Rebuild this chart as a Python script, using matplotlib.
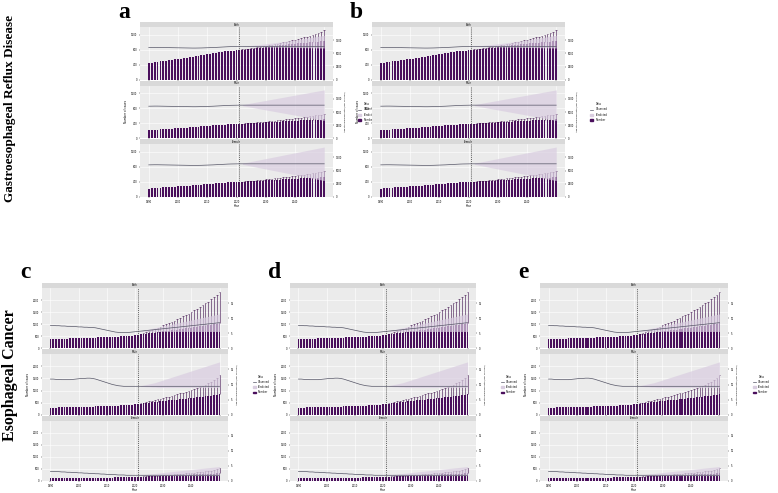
import numpy as np
import matplotlib
matplotlib.use("Agg")
import matplotlib.pyplot as plt
from matplotlib.patches import Patch
from matplotlib.lines import Line2D

# ---------------- data ----------------
years = list(range(1990, 2051))          # 61 years, 2021 = last observed
pred_years = list(range(2022, 2051))     # 29 predicted years
sexes = ["Both", "Male", "Female"]

# Gastroesophageal reflux disease (cases, thousands)
gerd_both = [440, 450, 461, 472, 483, 494, 505, 516, 527, 538, 549, 560, 572, 584, 596, 608,
             620, 633, 646, 659, 672, 685, 698, 711, 724, 737, 750, 762, 770, 775, 778, 780,
             790, 800, 810, 819, 828, 837, 846, 855, 864, 873, 882, 891, 900, 909, 918, 927,
             936, 945, 954, 962, 970, 978, 986, 994, 1001, 1008, 1014, 1020, 1026]
gerd_male = [215, 220, 225, 230, 236, 241, 247, 252, 258, 263, 269, 274, 280, 286, 292, 298,
             304, 310, 316, 323, 329, 336, 342, 348, 355, 361, 367, 373, 377, 380, 381, 382,
             387, 392, 397, 401, 406, 410, 415, 419, 423, 428, 432, 437, 441, 445, 450, 454,
             458, 463, 467, 471, 475, 479, 483, 487, 490, 494, 497, 500, 503]
gerd_female = [225, 230, 236, 242, 247, 253, 258, 264, 269, 275, 280, 286, 292, 298, 304, 310,
               316, 323, 330, 336, 343, 349, 356, 363, 369, 376, 383, 389, 393, 395, 397, 398,
               403, 408, 413, 418, 422, 427, 431, 436, 440, 445, 450, 454, 459, 464, 468, 473,
               477, 482, 487, 491, 495, 499, 503, 507, 511, 514, 517, 520, 523]
gerd_both_up = [805, 815, 826, 838, 850, 862, 875, 888, 902, 916, 930, 945, 960, 976, 992,
                1008, 1025, 1043, 1061, 1080, 1100, 1121, 1143, 1166, 1190, 1215, 1245, 1280, 1330]
gerd_male_up = [390, 396, 402, 408, 414, 421, 428, 435, 443, 451, 459, 467, 475, 484, 493,
                502, 511, 521, 531, 541, 551, 562, 573, 584, 596, 608, 620, 633, 646]
gerd_female_up = [407, 414, 421, 428, 435, 442, 450, 458, 466, 474, 483, 492, 501, 510, 520,
                  530, 540, 550, 561, 572, 583, 594, 606, 618, 630, 643, 656, 670, 684]
# age-standardised rate (right axis)
gerd_rate = [6100, 6110, 6120, 6120, 6110, 6100, 6090, 6080, 6070, 6060, 6050, 6040, 6030, 6020,
             6010, 6000, 6000, 6010, 6020, 6040, 6060, 6080, 6100, 6130, 6160, 6190, 6220, 6250,
             6270, 6280, 6290, 6300, 6300, 6300, 6300, 6300, 6300, 6300, 6300, 6300, 6300, 6300,
             6300, 6300, 6300, 6300, 6300, 6300, 6300, 6300, 6300, 6300, 6300, 6300, 6300, 6300,
             6300, 6300, 6300, 6300, 6300]
gerd_band_lo = {
    "Both": [6290, 6280, 6270, 6260, 6250, 6240, 6230, 6220, 6210, 6200, 6190, 6180, 6170, 6160,
             6150, 6140, 6130, 6120, 6110, 6100, 6090, 6080, 6070, 6060, 6050, 6040, 6030, 6020, 6010],
    "Male": [6200, 6100, 6000, 5900, 5800, 5700, 5600, 5500, 5400, 5300, 5200, 5100, 5000, 4900,
             4800, 4700, 4600, 4500, 4400, 4300, 4200, 4100, 4000, 3900, 3800, 3700, 3600, 3500, 3400],
    "Female": [6200, 6090, 5980, 5870, 5760, 5650, 5540, 5430, 5320, 5210, 5100, 4990, 4880, 4770,
               4660, 4550, 4440, 4330, 4220, 4110, 4000, 3890, 3780, 3670, 3560, 3450, 3340, 3230, 3120],
}
gerd_band_hi = {
    "Both": [6350, 6400, 6450, 6500, 6560, 6620, 6680, 6740, 6800, 6870, 6940, 7010, 7080, 7150,
             7220, 7300, 7380, 7460, 7540, 7620, 7700, 7790, 7880, 7970, 8060, 8150, 8240, 8330, 8420],
    "Male": [6400, 6500, 6600, 6700, 6800, 6900, 7000, 7100, 7200, 7300, 7400, 7500, 7600, 7700,
             7800, 7900, 8000, 8100, 8200, 8300, 8400, 8500, 8600, 8700, 8800, 8900, 9000, 9100, 9200],
    "Female": [6410, 6520, 6630, 6740, 6850, 6960, 7070, 7180, 7290, 7400, 7510, 7620, 7730, 7840,
               7950, 8060, 8170, 8280, 8390, 8500, 8610, 8720, 8830, 8940, 9050, 9160, 9270, 9380, 9490],
}

# Esophageal cancer (cases, hundreds)
ec_both = [380, 384, 388, 392, 396, 400, 404, 408, 412, 416, 420, 424, 428, 432, 436, 440,
           445, 450, 455, 460, 466, 472, 478, 484, 490, 497, 504, 511, 520, 530, 545, 560,
           575, 590, 605, 620, 636, 652, 668, 684, 700, 716, 732, 748, 764, 780, 796, 812,
           828, 844, 860, 876, 892, 908, 924, 940, 958, 976, 996, 1020, 1050]
ec_male = [290, 293, 296, 299, 302, 305, 308, 311, 314, 317, 320, 323, 326, 329, 332, 335,
           339, 343, 347, 351, 355, 360, 365, 370, 375, 380, 385, 392, 400, 415, 432, 450,
           462, 474, 486, 498, 510, 523, 536, 549, 562, 575, 588, 601, 614, 627, 640, 653,
           666, 679, 692, 705, 718, 731, 744, 757, 772, 788, 806, 826, 850]
ec_female = [120, 121, 122, 123, 124, 125, 126, 127, 128, 129, 130, 131, 132, 133, 134, 135,
             136, 137, 138, 139, 140, 142, 144, 146, 148, 150, 152, 155, 158, 162, 166, 170,
             175, 180, 185, 190, 195, 200, 205, 210, 215, 220, 225, 230, 235, 240, 245, 250,
             255, 260, 265, 270, 275, 280, 285, 290, 296, 302, 308, 314, 320]
ec_both_up = [600, 640, 680, 720, 765, 810, 855, 900, 950, 1000, 1050, 1100, 1150, 1200, 1260,
              1320, 1380, 1440, 1500, 1570, 1640, 1710, 1780, 1860, 1940, 2030, 2120, 2220, 2330]
ec_male_up = [475, 500, 525, 550, 575, 600, 630, 660, 690, 720, 750, 780, 810, 845, 880,
              915, 950, 990, 1030, 1070, 1110, 1155, 1200, 1250, 1300, 1360, 1430, 1520, 1650]
ec_female_up = [180, 187, 194, 201, 208, 215, 223, 231, 239, 247, 256, 265, 274, 283, 293,
                303, 313, 324, 335, 346, 358, 370, 383, 396, 410, 425, 445, 480, 540]
ec_rate = {
    "Both": [7.6, 7.6, 7.5, 7.5, 7.4, 7.4, 7.3, 7.3, 7.2, 7.2, 7.1, 7.1, 7.0, 7.0, 6.9, 6.9,
             6.8, 6.6, 6.4, 6.2, 6.0, 5.8, 5.6, 5.4, 5.3, 5.2, 5.2, 5.2, 5.3, 5.4, 5.5, 5.6,
             5.7, 5.8, 5.9, 6.0, 6.1, 6.2, 6.3, 6.4, 6.5, 6.6, 6.7, 6.8, 6.9, 7.0, 7.1, 7.2,
             7.3, 7.4, 7.5, 7.6, 7.7, 7.8, 7.9, 8.0, 8.1, 8.2, 8.3, 8.4, 8.5],
    "Male": [11.8, 11.8, 11.7, 11.7, 11.6, 11.6, 11.6, 11.6, 11.7, 11.8, 11.9, 12.0, 12.0, 12.1,
             12.1, 12.0, 11.8, 11.5, 11.2, 10.9, 10.6, 10.3, 10.0, 9.8, 9.6, 9.5, 9.4, 9.4, 9.4,
             9.4, 9.4, 9.4, 9.4, 9.4, 9.4, 9.4, 9.4, 9.4, 9.4, 9.4, 9.4, 9.4, 9.4, 9.4, 9.4, 9.4,
             9.4, 9.4, 9.4, 9.4, 9.4, 9.4, 9.4, 9.4, 9.4, 9.4, 9.4, 9.4, 9.4, 9.4, 9.4],
    "Female": [3.2, 3.2, 3.1, 3.1, 3.0, 3.0, 2.9, 2.9, 2.8, 2.8, 2.7, 2.7, 2.6, 2.6, 2.5, 2.5,
               2.4, 2.4, 2.3, 2.3, 2.2, 2.2, 2.1, 2.1, 2.0, 2.0, 2.0, 1.9, 1.9, 1.9, 1.9, 1.9,
               1.9, 1.9, 1.9, 1.9, 1.9, 1.9, 1.9, 1.9, 1.9, 1.9, 1.9, 1.9, 1.9, 1.9, 1.9, 1.9,
               1.9, 1.9, 1.9, 1.9, 1.9, 1.9, 1.9, 1.9, 1.9, 1.9, 1.9, 1.9, 1.9],
}
ec_band_lo = {
    "Both": [5.6, 5.6, 5.6, 5.6, 5.6, 5.6, 5.6, 5.6, 5.6, 5.6, 5.6, 5.6, 5.6, 5.6, 5.6,
             5.6, 5.6, 5.6, 5.6, 5.6, 5.6, 5.6, 5.6, 5.6, 5.6, 5.6, 5.6, 5.6, 5.6],
    "Male": [9.3, 9.3, 9.2, 9.2, 9.1, 9.1, 9.0, 9.0, 9.0, 9.0, 9.0, 9.0, 9.0, 9.0, 9.0,
             9.0, 9.0, 9.0, 9.0, 9.0, 9.0, 9.0, 9.0, 9.0, 9.0, 9.0, 9.0, 9.0, 9.0],
    "Female": [1.8, 1.8, 1.8, 1.8, 1.8, 1.8, 1.8, 1.8, 1.8, 1.8, 1.8, 1.8, 1.8, 1.8, 1.8,
               1.8, 1.8, 1.8, 1.8, 1.8, 1.8, 1.8, 1.8, 1.8, 1.8, 1.8, 1.8, 1.8, 1.8],
}
ec_band_hi = {
    "Both": [5.8, 6.0, 6.2, 6.4, 6.6, 6.8, 7.0, 7.2, 7.4, 7.6, 7.8, 8.0, 8.2, 8.4, 8.6,
             8.8, 9.0, 9.2, 9.4, 9.6, 9.8, 10.0, 10.2, 10.4, 10.6, 10.8, 11.0, 11.2, 11.4],
    "Male": [9.6, 9.8, 10.0, 10.2, 10.4, 10.6, 10.9, 11.2, 11.5, 11.8, 12.1, 12.4, 12.7, 13.0,
             13.3, 13.6, 13.9, 14.2, 14.5, 14.8, 15.1, 15.4, 15.7, 16.0, 16.3, 16.6, 16.9, 17.2, 17.5],
    "Female": [2.0, 2.1, 2.2, 2.3, 2.4, 2.5, 2.6, 2.7, 2.8, 2.9, 3.0, 3.1, 3.2, 3.3, 3.4,
               3.5, 3.6, 3.7, 3.8, 3.9, 4.0, 4.1, 4.2, 4.3, 4.4, 4.5, 4.6, 4.7, 4.8],
}

gerd = {"bars": {"Both": gerd_both, "Male": gerd_male, "Female": gerd_female},
        "up": {"Both": gerd_both_up, "Male": gerd_male_up, "Female": gerd_female_up},
        "rate": {"Both": gerd_rate, "Male": gerd_rate, "Female": gerd_rate},
        "lo": gerd_band_lo, "hi": gerd_band_hi, "ylim": 1400, "rlim": 10000,
        "yt": [0, 400, 800, 1200], "rt": [0, 2500, 5000, 7500]}
ec = {"bars": {"Both": ec_both, "Male": ec_male, "Female": ec_female},
      "up": {"Both": ec_both_up, "Male": ec_male_up, "Female": ec_female_up},
      "rate": ec_rate, "lo": ec_band_lo, "hi": ec_band_hi, "ylim": 2500, "rlim": 20,
      "yt": [0, 500, 1000, 1500, 2000], "rt": [0, 5, 10, 15]}

# ---------------- drawing ----------------
W, H = 778, 493
PURPLE = "#4a0f5c"
BAND = "#d9cde0"
fig = plt.figure(figsize=(W / 100, H / 100), dpi=100)
fig.patch.set_facecolor("white")


def px(x0, y0, w, h):
    return [x0 / W, 1 - (y0 + h) / H, w / W, h / H]


def draw_panel(left, top, width, height, d, letter):
    fh = height / 3
    strip = 5
    for i, sex in enumerate(sexes):
        y0 = top + i * fh
        st = fig.add_axes(px(left, y0, width, strip))
        st.set_facecolor("#d9d9d9")
        st.set_xticks([]); st.set_yticks([])
        for s in st.spines.values():
            s.set_visible(False)
        st.text(0.5, 0.5, sex, fontsize=1.8, ha="center", va="center", transform=st.transAxes)

        ax = fig.add_axes(px(left, y0 + strip, width, fh - strip - 1))
        ax.set_facecolor("#ebebeb")
        ax.grid(color="white", lw=0.4)
        ax.set_axisbelow(True)
        ax.bar(years, d["bars"][sex], width=0.65, color=PURPLE, zorder=2)
        bp = d["bars"][sex][-len(pred_years):]
        ax.vlines(pred_years, bp, d["up"][sex], color="#3a0a48", lw=0.4, zorder=2)
        ax.hlines(d["up"][sex], np.array(pred_years) - 0.3, np.array(pred_years) + 0.3,
                  color="#3a0a48", lw=0.4, zorder=2)
        ax.axvline(2021, color="#333333", lw=0.5, ls=(0, (1.5, 1.5)), zorder=3)
        ax.set_xlim(1987, 2053)
        ax.set_ylim(0, d["ylim"])
        ax.tick_params(labelsize=1.8, length=1, width=0.3, pad=1)
        ax.set_yticks(d["yt"])
        if i < 2:
            ax.set_xticklabels([])
        else:
            ax.set_xticks([1990, 2000, 2010, 2020, 2030, 2040])
            ax.set_xlabel("Year", fontsize=2, labelpad=0.5)
        if i == 1:
            ax.set_ylabel("Number of cases", fontsize=2, labelpad=2)
        for s in ax.spines.values():
            s.set_visible(False)

        rx = ax.twinx()
        rx.plot(years, d["rate"][sex], color="#555566", lw=0.5, zorder=4)
        rx.fill_between(pred_years, d["lo"][sex], d["hi"][sex], color=BAND, alpha=0.7, lw=0)
        rx.set_ylim(0, d["rlim"])
        rx.set_yticks(d["rt"])
        rx.tick_params(labelsize=1.8, length=1, width=0.3, pad=1)
        if i == 1:
            rx.set_ylabel("Age-standardized rate (per 100,000)", fontsize=1.6, labelpad=1.5)
            handles = [Line2D([], [], color="#555566", lw=0.5), Patch(color=BAND), Patch(color=PURPLE)]
            rx.legend(handles, ["Observed", "Predicted", "Number"], fontsize=1.8,
                      loc="center left", bbox_to_anchor=(1.12, 0.5), frameon=False,
                      handlelength=1.2, title="Data", title_fontsize=1.8)
        for s in rx.spines.values():
            s.set_visible(False)

    fig.text((left - 22) / W, 1 - (top - 10) / H, letter, fontsize=17, fontweight="bold",
             family="Liberation Serif", va="center", ha="left")


draw_panel(140, 22, 193, 176, gerd, "a")
draw_panel(372, 22, 193, 176, gerd, "b")
draw_panel(42, 283, 186, 199, ec, "c")
draw_panel(290, 283, 186, 199, ec, "d")
draw_panel(540, 283, 188, 199, ec, "e")

fig.text(10 / W, 1 - 108 / H, "Gastroesophageal Reflux Disease", rotation=90, fontsize=9.5,
         fontweight="bold", family="Liberation Serif", ha="center", va="center")
fig.text(10 / W, 1 - 375 / H, "Esophageal Cancer", rotation=90, fontsize=11.5,
         fontweight="bold", family="Liberation Serif", ha="center", va="center")

fig.savefig("out.png", dpi=100)
